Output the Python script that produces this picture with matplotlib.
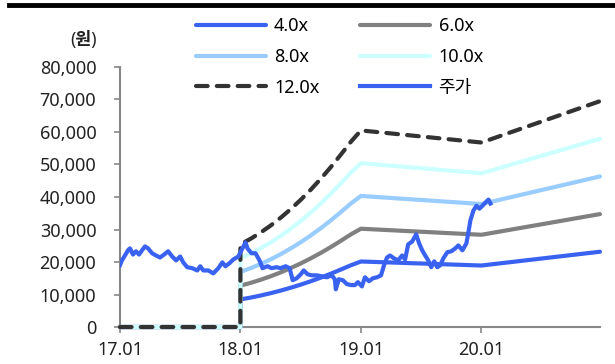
import matplotlib
matplotlib.use('Agg')
import matplotlib.pyplot as plt
from matplotlib.lines import Line2D

plt.rcParams['font.family'] = ['Noto Sans', 'Noto Sans CJK KR', 'DejaVu Sans']

# x axis: months since 2017-01
tick_pos = [0, 12, 24, 36]
tick_labels = ['17.01', '18.01', '19.01', '20.01']

# EPS path used for the PER bands (0 before 2018)
eps_month = [0, 11.99, 12, 13, 14, 15, 16, 17, 18, 19, 20, 21, 22, 23, 24, 36, 47.8]
eps = [0, 0, 2120, 2260, 2420, 2600, 2800, 3020, 3260, 3520, 3800, 4100,
       4420, 4750, 5040, 4730, 5790]
multiples = [4.0, 6.0, 8.0, 10.0, 12.0]
band_labels = ['4.0x', '6.0x', '8.0x', '10.0x', '12.0x']

# share price (won)
price_month = [0, 0.2, 0.5, 0.8, 1.0, 1.3, 1.6, 1.9, 2.2, 2.5, 2.8, 3.2, 3.6, 4.0,
               4.4, 4.8, 5.2, 5.6, 6.0, 6.3, 6.7, 7.2, 7.7, 8.0, 8.3, 8.8, 9.3,
               9.8, 10.2, 10.5, 10.9, 11.3, 11.8, 12.1, 12.5, 12.7, 13.1, 13.5,
               13.9, 14.2, 14.7, 15.1, 15.6, 16.0, 16.5, 16.9, 17.2, 17.6, 18.0,
               18.3, 18.7, 19.1, 19.6, 20.1, 20.6, 21.1, 21.4, 21.5, 21.8, 22.2,
               22.6, 23.0, 23.4, 23.7, 24.1, 24.4, 24.8, 25.2, 25.6, 26.0, 26.3,
               26.6, 26.9, 27.3, 27.7, 28.1, 28.4, 28.7, 29.1, 29.5, 29.8, 30.1,
               30.4, 30.7, 31.0, 31.3, 31.6, 31.9, 32.2, 32.6, 33.0, 33.4, 33.7,
               34.1, 34.5, 34.7, 34.9, 35.2, 35.5, 35.8, 36.1, 36.4, 36.7, 36.9]
price = [19000, 20500, 22000, 23600, 24200, 22300, 23300, 22300, 23600, 24800,
         24200, 22700, 22000, 21400, 22300, 23300, 21700, 20500, 21700, 19900,
         18400, 18100, 17400, 18700, 17400, 17400, 16500, 18100, 19900, 18700,
         19600, 20800, 21700, 23600, 26000, 24200, 22700, 22700, 20500, 18100,
         18700, 18100, 18400, 18100, 18700, 18100, 14400, 15000, 16200, 17400,
         16200, 15900, 15900, 15600, 15300, 15900, 14700, 11600, 14700, 14400,
         13200, 12900, 12900, 13800, 12500, 15300, 14100, 15000, 15300, 15900,
         19000, 21400, 22000, 21100, 20500, 22000, 20800, 25400, 26300, 28500,
         25700, 23600, 22000, 20500, 18400, 20200, 18400, 19000, 21100, 23000,
         23300, 24200, 25100, 23600, 25700, 29100, 32800, 35800, 37300, 36400,
         37300, 38300, 39200, 38000]

band_colors = ['#3a62f0', '#808080', '#99ccff', '#ccffff', '#333333']
price_color = '#3a62f0'

fig = plt.figure(figsize=(6.15, 3.64), dpi=100)
ax = fig.add_axes([0.195, 0.1016, 0.7805, 0.7144])

handles = []
for m, lab, c in zip(multiples, band_labels, band_colors):
    vals = [m * e for e in eps]
    if lab == '12.0x':
        h, = ax.plot(eps_month, vals, color=c, lw=3.0, linestyle=(0, (2.8, 2.2)),
                     dash_capstyle='round', label=lab, clip_on=False, zorder=3)
    else:
        h, = ax.plot(eps_month, vals, color=c, lw=3.0, solid_capstyle='round',
                     label=lab, clip_on=False, zorder=3)
    handles.append(h)
hp, = ax.plot(price_month, price, color=price_color, lw=3.0, label='주가', zorder=3)
handles.append(hp)

ax.set_xlim(0, 47.8)
ax.set_ylim(0, 80000)
ax.set_yticks(range(0, 80001, 10000))
ax.set_yticklabels([f'{v:,}' for v in range(0, 80001, 10000)])
ax.set_xticks(tick_pos)
ax.set_xticklabels(tick_labels)

for s in ['top', 'right']:
    ax.spines[s].set_visible(False)
for s in ['left', 'bottom']:
    ax.spines[s].set_color('#888888')
    ax.spines[s].set_linewidth(1.5)
    ax.spines[s].set_zorder(1)
ax.tick_params(axis='both', colors='#888888', labelcolor='#222222',
               labelsize=13, length=4, width=1.2)
ax.tick_params(axis='y', pad=13)
ax.tick_params(axis='x', pad=6)

fig.text(0.135, 0.89, '(원)', fontsize=12.5, fontweight='bold', color='#222222',
         ha='center', va='center')

# legend: row-major order in the original, matplotlib fills columns
order = [0, 2, 4, 1, 3, 5]
fig.legend([handles[i] for i in order], [handles[i].get_label() for i in order],
           ncol=2, loc='upper left', bbox_to_anchor=(0.318, 0.952), frameon=False,
           fontsize=13, handlelength=3.9, handletextpad=0.45, columnspacing=2.25,
           labelspacing=0.7, borderpad=0, borderaxespad=0)

# thick rule at the top
fig.add_artist(Line2D([0.015, 1.0], [0.985, 0.985], color='black', lw=3.5,
                      transform=fig.transFigure))

fig.savefig('out.png', dpi=100)
